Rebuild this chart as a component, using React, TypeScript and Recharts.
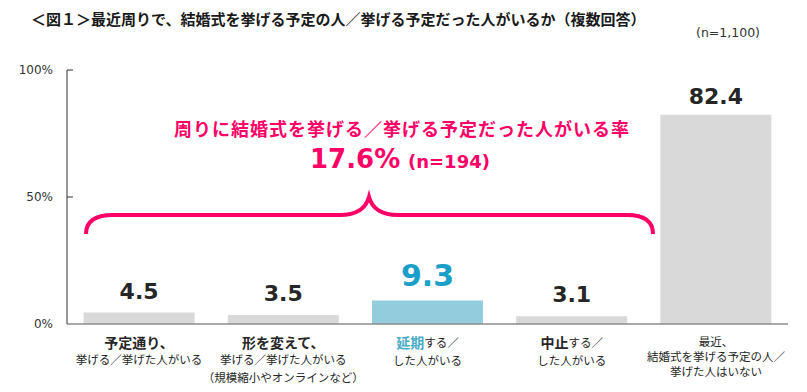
import React from 'react';
import { BarChart, Bar, XAxis, YAxis, Cell, LabelList } from 'recharts';

const categories = ['予定通り', '形を変えて', '延期', '中止', 'いない'];
const values = [4.5, 3.5, 9.3, 3.1, 82.4];
const barColors = ['#d9d9d9', '#d9d9d9', '#93cddd', '#d9d9d9', '#d9d9d9'];
const labelColors = ['#262626', '#262626', '#1a9fc8', '#262626', '#262626'];
const labelSizes = [22, 22, 30, 22, 22];
const yTicks = [0, 50, 100];

type Part = { t: string; bold?: boolean; blue?: boolean };
const tickLines: Part[][][] = [
  [[{ t: '予定通り、', bold: true }], [{ t: '挙げる／挙げた人がいる' }]],
  [[{ t: '形を変えて、', bold: true }], [{ t: '挙げる／挙げた人がいる' }], [{ t: '（規模縮小やオンラインなど）' }]],
  [[{ t: '延期', bold: true, blue: true }, { t: 'する／' }], [{ t: 'した人がいる' }]],
  [[{ t: '中止', bold: true }, { t: 'する／' }], [{ t: 'した人がいる' }]],
  [[{ t: '最近、' }], [{ t: '結婚式を挙げる予定の人／' }], [{ t: '挙げた人はいない' }]],
];
const lineOffsets = [
  [18, 35],
  [18, 35, 53],
  [18, 36],
  [18, 36],
  [17, 32, 47],
];

const titleText = '＜図１＞最近周りで、結婚式を挙げる予定の人／挙げる予定だった人がいるか（複数回答）';
const sampleText = '(n=1,100)';
const noteLine1 = '周りに結婚式を挙げる／挙げる予定だった人がいる率';
const noteRate = '17.6%';
const noteN = '(n=194)';

const data = categories.map((c, i) => ({ name: c, value: values[i] }));

const JP = '"Noto Sans CJK JP", "Noto Sans", sans-serif';
const NUM = '"DejaVu Sans", Verdana, sans-serif';
const PINK = '#ff0066';

const YTick = (props: any) => {
  const { x, y, payload } = props;
  return (
    <g>
      <text x={x - 14} y={y} textAnchor="end" dominantBaseline="central" fontFamily={NUM} fontSize={12} fill="#333">
        {`${payload.value}%`}
      </text>
      {payload.value > 0 && <line x1={x} x2={x + 6} y1={y} y2={y} stroke="#333" strokeWidth={1} />}
    </g>
  );
};

const XTick = (props: any) => {
  const { x, y, payload } = props;
  const idx = categories.indexOf(payload.value);
  const lines = tickLines[idx] || [];
  return (
    <g>
      {lines.map((parts, li) => (
        <text
          key={li}
          x={x}
          y={y + lineOffsets[idx][li]}
          textAnchor="middle"
          dominantBaseline="central"
          fontFamily={JP}
          fill="#262626"
        >
          {parts.map((p, pi) => (
            <tspan
              key={pi}
              fontWeight={p.bold ? 700 : 400}
              fontSize={p.bold ? 14 : 11.5}
              fill={p.blue ? '#4bacc6' : '#262626'}
            >
              {p.t}
            </tspan>
          ))}
        </text>
      ))}
    </g>
  );
};

const ValueLabel = (props: any) => {
  const { x, y, width, index, value } = props;
  const gap = index === 4 ? 11 : 14;
  return (
    <text
      x={x + width / 2}
      y={y - gap}
      textAnchor="middle"
      fontFamily={NUM}
      fontWeight={700}
      fontSize={labelSizes[index]}
      fill={labelColors[index]}
    >
      {value}
    </text>
  );
};

export default function App() {
  return (
    <div style={{ position: 'absolute', left: 0, top: 0, width: 807, height: 392, background: '#fff' }}>
      <BarChart
        width={807}
        height={392}
        data={data}
        margin={{ top: 70, right: 19, bottom: 0, left: 0 }}
        barCategoryGap="11.5%"
      >
        <XAxis
          dataKey="name"
          height={68}
          axisLine={{ stroke: '#8c8c8c', strokeWidth: 1.5 }}
          tickLine={false}
          tickSize={0}
          tickMargin={0}
          interval={0}
          tick={<XTick />}
        />
        <YAxis
          width={67}
          domain={[0, 100]}
          ticks={yTicks}
          axisLine={{ stroke: '#333', strokeWidth: 1 }}
          tickLine={false}
          tickSize={0}
          tickMargin={0}
          tick={<YTick />}
        />
        <Bar dataKey="value" isAnimationActive={false}>
          {data.map((d, i) => (
            <Cell key={d.name} fill={barColors[i]} />
          ))}
          <LabelList dataKey="value" content={<ValueLabel />} />
        </Bar>
      </BarChart>
      <svg
        width={807}
        height={392}
        style={{ position: 'absolute', left: 0, top: 0, pointerEvents: 'none' }}
      >
        <text x={31} y={18.5} dominantBaseline="central" fontFamily={JP} fontWeight={700} fontSize={15} fill="#1a1a1a">
          {titleText}
        </text>
        <text x={760} y={32} textAnchor="end" dominantBaseline="central" fontFamily={NUM} fontSize={12.5} fill="#333">
          {sampleText}
        </text>
        <text
          x={402}
          y={128}
          textAnchor="middle"
          dominantBaseline="central"
          fontFamily={JP}
          fontWeight={700}
          fontSize={18}
          letterSpacing={1}
          fill={PINK}
        >
          {noteLine1}
        </text>
        <text x={310} y={168} fontFamily={NUM} fontWeight={700} fontSize={26} fill={PINK}>
          {noteRate}
        </text>
        <text x={408} y={168} fontFamily={NUM} fontWeight={700} fontSize={18} fill={PINK}>
          {noteN}
        </text>
        <path
          d="M86,234 Q86,215 113,215 L340,215 Q364,215 369,197 Q374,215 398,215 L627,215 Q653,215 653,234"
          fill="none"
          stroke={PINK}
          strokeWidth={4}
        />
      </svg>
    </div>
  );
}
